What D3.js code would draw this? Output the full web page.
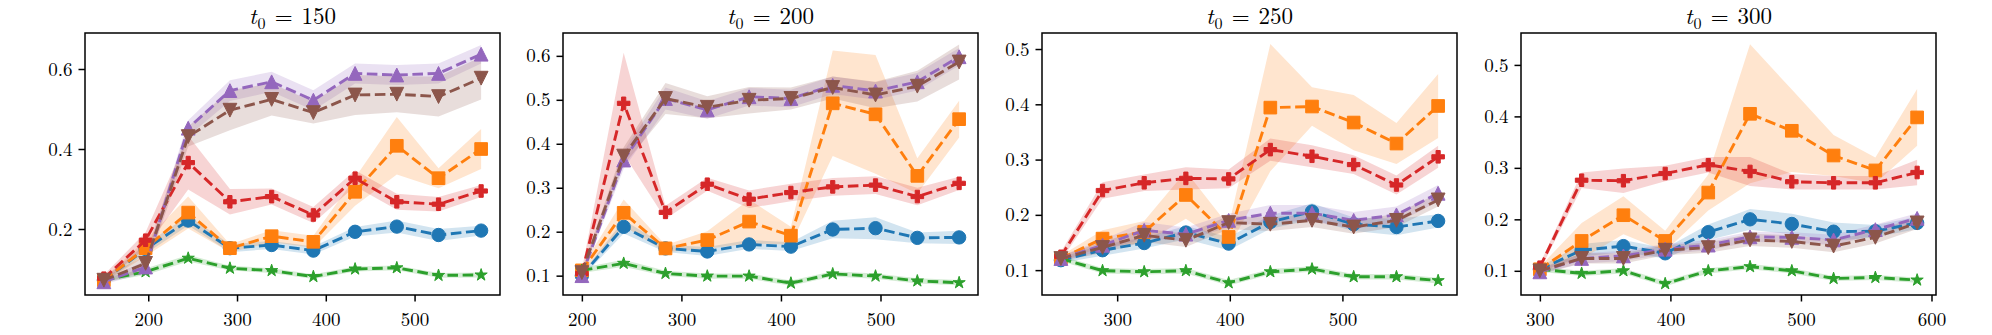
<!DOCTYPE html>
<html>
<head>
<meta charset="utf-8">
<script src="https://cdn.jsdelivr.net/npm/d3@7"></script>
<style>
  body { margin: 0; background: #fff; }
  svg { display: block; }
</style>
</head>
<body>
<svg id="chart"></svg>
<script>
// 每个子图的起点 t0
const t0s = [150, 200, 250, 300];

// 横轴取值
const steps = [
  [150, 197, 245, 292, 339, 386, 433, 480, 527, 575],
  [200, 242, 284, 326, 368, 410, 452, 495, 537, 579],
  [250, 287, 324, 361, 399, 436, 473, 510, 548, 585],
  [300, 332, 364, 396, 429, 461, 493, 525, 557, 589]
];

// 刻度
const xTicks = [[200, 300, 400, 500], [200, 300, 400, 500], [300, 400, 500], [300, 400, 500, 600]];
const yTicks = [[0.2, 0.4, 0.6], [0.1, 0.2, 0.3, 0.4, 0.5, 0.6], [0.1, 0.2, 0.3, 0.4, 0.5], [0.1, 0.2, 0.3, 0.4, 0.5]];
const yRanges = [[0.035, 0.69], [0.056, 0.652], [0.055, 0.529], [0.053, 0.562]];

// 各方法均值与误差（每行一个子图）
const circleMean = [
  [0.072, 0.150, 0.221, 0.152, 0.160, 0.146, 0.193, 0.206, 0.185, 0.196],
  [0.100, 0.211, 0.162, 0.155, 0.171, 0.166, 0.205, 0.208, 0.186, 0.187],
  [0.118, 0.136, 0.149, 0.168, 0.148, 0.187, 0.206, 0.183, 0.178, 0.189],
  [0.103, 0.140, 0.148, 0.134, 0.175, 0.200, 0.191, 0.176, 0.177, 0.193]
];
const circleErr = [
  [0.005, 0.012, 0.012, 0.010, 0.010, 0.010, 0.012, 0.015, 0.015, 0.012],
  [0.005, 0.015, 0.008, 0.010, 0.010, 0.010, 0.020, 0.025, 0.012, 0.015],
  [0.005, 0.010, 0.010, 0.012, 0.012, 0.012, 0.015, 0.012, 0.015, 0.012],
  [0.005, 0.012, 0.012, 0.010, 0.015, 0.020, 0.020, 0.018, 0.012, 0.012]
];

const squareMean = [
  [0.072, 0.152, 0.241, 0.152, 0.182, 0.168, 0.293, 0.408, 0.327, 0.400],
  [0.112, 0.243, 0.162, 0.181, 0.223, 0.191, 0.492, 0.467, 0.327, 0.456],
  [0.121, 0.157, 0.169, 0.236, 0.160, 0.394, 0.396, 0.367, 0.329, 0.397],
  [0.103, 0.158, 0.208, 0.158, 0.252, 0.405, 0.372, 0.324, 0.295, 0.398]
];
const squareErr = [
  [0.005, 0.020, 0.040, 0.010, 0.015, 0.015, 0.035, 0.072, 0.025, 0.050],
  [0.008, 0.030, 0.008, 0.020, 0.050, 0.020, 0.120, 0.135, 0.040, 0.042],
  [0.005, 0.015, 0.020, 0.043, 0.020, 0.115, 0.035, 0.050, 0.037, 0.058],
  [0.005, 0.035, 0.037, 0.020, 0.035, 0.135, 0.080, 0.040, 0.025, 0.055]
];

const starMean = [
  [0.072, 0.093, 0.127, 0.102, 0.096, 0.081, 0.100, 0.103, 0.084, 0.085],
  [0.112, 0.128, 0.105, 0.099, 0.099, 0.083, 0.104, 0.099, 0.088, 0.084],
  [0.121, 0.099, 0.097, 0.099, 0.077, 0.097, 0.102, 0.088, 0.088, 0.081],
  [0.103, 0.095, 0.100, 0.075, 0.100, 0.108, 0.100, 0.085, 0.087, 0.082]
];
const starErr = [
  [0.005, 0.008, 0.008, 0.006, 0.006, 0.006, 0.006, 0.006, 0.006, 0.006],
  [0.006, 0.008, 0.006, 0.006, 0.006, 0.006, 0.006, 0.006, 0.006, 0.006],
  [0.005, 0.005, 0.005, 0.005, 0.005, 0.005, 0.005, 0.005, 0.005, 0.005],
  [0.005, 0.005, 0.005, 0.005, 0.005, 0.005, 0.005, 0.005, 0.005, 0.005]
];

const plusMean = [
  [0.077, 0.172, 0.366, 0.268, 0.281, 0.235, 0.327, 0.268, 0.262, 0.295],
  [0.105, 0.492, 0.244, 0.308, 0.274, 0.289, 0.302, 0.306, 0.280, 0.310],
  [0.125, 0.244, 0.258, 0.266, 0.265, 0.318, 0.306, 0.291, 0.254, 0.305],
  [0.107, 0.276, 0.275, 0.289, 0.306, 0.293, 0.273, 0.271, 0.271, 0.291]
];
const plusErr = [
  [0.008, 0.020, 0.067, 0.032, 0.020, 0.020, 0.020, 0.020, 0.018, 0.015],
  [0.008, 0.115, 0.015, 0.015, 0.020, 0.020, 0.020, 0.020, 0.020, 0.015],
  [0.008, 0.015, 0.015, 0.020, 0.017, 0.020, 0.020, 0.017, 0.017, 0.020],
  [0.006, 0.015, 0.024, 0.015, 0.015, 0.028, 0.015, 0.013, 0.013, 0.025]
];

const upMean = [
  [0.068, 0.105, 0.452, 0.546, 0.568, 0.522, 0.589, 0.585, 0.589, 0.637],
  [0.100, 0.363, 0.503, 0.477, 0.507, 0.503, 0.533, 0.520, 0.541, 0.598],
  [0.121, 0.145, 0.172, 0.165, 0.190, 0.203, 0.203, 0.190, 0.200, 0.239],
  [0.098, 0.124, 0.129, 0.142, 0.150, 0.166, 0.165, 0.160, 0.180, 0.202]
];
const upErr = [
  [0.006, 0.015, 0.020, 0.026, 0.025, 0.025, 0.025, 0.025, 0.025, 0.023],
  [0.006, 0.020, 0.025, 0.020, 0.020, 0.020, 0.020, 0.020, 0.020, 0.020],
  [0.005, 0.010, 0.015, 0.012, 0.012, 0.015, 0.015, 0.015, 0.015, 0.015],
  [0.005, 0.010, 0.010, 0.010, 0.010, 0.010, 0.010, 0.010, 0.010, 0.010]
];

const downMean = [
  [0.072, 0.114, 0.431, 0.497, 0.524, 0.491, 0.535, 0.537, 0.531, 0.577],
  [0.107, 0.372, 0.503, 0.483, 0.499, 0.503, 0.528, 0.511, 0.531, 0.586],
  [0.121, 0.141, 0.163, 0.154, 0.186, 0.183, 0.190, 0.178, 0.190, 0.227],
  [0.100, 0.124, 0.124, 0.140, 0.145, 0.160, 0.157, 0.148, 0.165, 0.193]
];
const downErr = [
  [0.006, 0.020, 0.025, 0.050, 0.040, 0.027, 0.050, 0.045, 0.050, 0.053],
  [0.006, 0.020, 0.035, 0.025, 0.030, 0.025, 0.025, 0.030, 0.035, 0.040],
  [0.005, 0.010, 0.012, 0.012, 0.012, 0.012, 0.012, 0.012, 0.012, 0.012],
  [0.005, 0.010, 0.010, 0.010, 0.010, 0.012, 0.012, 0.012, 0.012, 0.012]
];

// 画布尺寸
const width = 1992;
const height = 335;
const panelLefts = [85, 563, 1042, 1521];
const panelWidth = 415;
const plotTop = 33, plotBottom = 295;
const font = "'Latin Modern Roman', 'CMU Serif', 'Liberation Serif', serif";

// 自定义三角形（matplotlib 风格：宽高相等）
function triangle(down) {
  return {
    draw(ctx, size) {
      const h = Math.sqrt(size) / 2;
      const s = down ? -1 : 1;
      ctx.moveTo(0, -h * s);
      ctx.lineTo(h, h * s);
      ctx.lineTo(-h, h * s);
      ctx.closePath();
    }
  };
}

const series = [
  { mean: circleMean, err: circleErr, color: "#1f77b4", symbol: d3.symbolCircle, size: 140 },
  { mean: squareMean, err: squareErr, color: "#ff7f0e", symbol: d3.symbolSquare, size: 160 },
  { mean: starMean, err: starErr, color: "#2ca02c", symbol: d3.symbolStar, size: 46 },
  { mean: plusMean, err: plusErr, color: "#d62728", symbol: d3.symbolCross, size: 88 },
  { mean: upMean, err: upErr, color: "#9467bd", symbol: triangle(false), size: 190 },
  { mean: downMean, err: downErr, color: "#8c564b", symbol: triangle(true), size: 190 }
];

const svg = d3.select("#chart")
    .attr("width", width)
    .attr("height", height)
    .style("font-family", font);

t0s.forEach((t0, p) => {
  const xs = steps[p];
  const left = panelLefts[p];
  const [xMin, xMax] = d3.extent(xs);
  const xPad = (xMax - xMin) * 0.05;

  const x = d3.scaleLinear()
      .domain([xMin - xPad, xMax + xPad])
      .range([left, left + panelWidth]);
  const y = d3.scaleLinear()
      .domain(yRanges[p])
      .range([plotBottom, plotTop]);

  const g = svg.append("g");

  // 阴影带：全部先画
  const area = d3.area()
      .x((d, i) => x(xs[i]))
      .y0(d => y(d[0]))
      .y1(d => y(d[1]));
  series.forEach(s => {
    const band = s.mean[p].map((m, i) => [m - s.err[p][i], m + s.err[p][i]]);
    g.append("path")
        .datum(band)
        .attr("d", area)
        .attr("fill", s.color)
        .attr("fill-opacity", 0.2)
        .attr("stroke", "none");
  });

  // 虚线 + 标记
  const line = d3.line()
      .x((d, i) => x(xs[i]))
      .y(d => y(d));
  series.forEach(s => {
    g.append("path")
        .datum(s.mean[p])
        .attr("d", line)
        .attr("fill", "none")
        .attr("stroke", s.color)
        .attr("stroke-width", 2.9)
        .attr("stroke-dasharray", "10.6,4.6");

    g.append("g")
      .selectAll("path")
      .data(s.mean[p])
      .enter().append("path")
        .attr("d", d3.symbol().type(s.symbol).size(s.size))
        .attr("transform", (d, i) => `translate(${x(xs[i])},${y(d)})`)
        .attr("fill", s.color)
        .attr("stroke", s.color)
        .attr("stroke-width", 1);
  });

  // 坐标轴
  const xAxis = g.append("g")
      .attr("transform", `translate(0,${plotBottom})`)
      .call(d3.axisBottom(x).tickValues(xTicks[p]).tickSize(6.5).tickPadding(6).tickFormat(d3.format("d")));
  const yAxis = g.append("g")
      .attr("transform", `translate(${left},0)`)
      .call(d3.axisLeft(y).tickValues(yTicks[p]).tickSize(6.5).tickPadding(6).tickFormat(d3.format(".1f")));

  [xAxis, yAxis].forEach(a => {
    a.select(".domain").remove();
    a.selectAll(".tick line").attr("stroke", "#000").attr("stroke-width", 1.5);
    a.selectAll(".tick text")
        .attr("fill", "#000")
        .style("font-family", font)
        .style("font-size", "19px");
  });
  xAxis.selectAll(".tick text").attr("dy", "0.95em");

  // 边框
  g.append("rect")
      .attr("x", left)
      .attr("y", plotTop)
      .attr("width", panelWidth)
      .attr("height", plotBottom - plotTop)
      .attr("fill", "none")
      .attr("stroke", "#000")
      .attr("stroke-width", 1.5);

  // 标题 t_0 = ...：分成几段文字，按宽度排开后整体居中
  const parts = [
    { text: "t", size: 23, italic: true, dy: 0, gap: 1 },
    { text: "0", size: 16, italic: false, dy: 4.5, gap: 9 },
    { text: "=", size: 23, italic: false, dy: 0, gap: 9 },
    { text: String(t0), size: 23, italic: false, dy: 0, gap: 0 }
  ];
  const tg = g.append("g");
  let cursor = 0;
  parts.forEach(pt => {
    const node = tg.append("text")
        .attr("x", cursor)
        .attr("y", 24 + pt.dy)
        .attr("fill", "#000")
        .style("font-size", pt.size + "px")
        .style("font-style", pt.italic ? "italic" : "normal")
        .text(pt.text);
    cursor += node.node().getComputedTextLength() + pt.gap;
  });
  tg.attr("transform", `translate(${left + panelWidth / 2 - cursor / 2},0)`);
});
</script>
</body>
</html>
